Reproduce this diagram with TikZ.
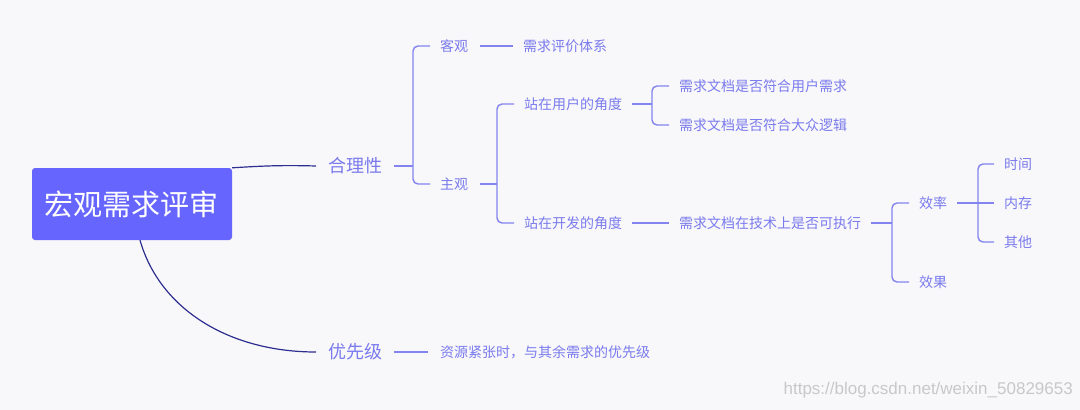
\documentclass[tikz,border=0pt]{standalone}
\usepackage{fontspec}
\setmainfont{Noto Sans CJK SC}
\newfontfamily\wmfont{Liberation Sans}
\definecolor{bg}{HTML}{F8F8FA}
\definecolor{rootfill}{HTML}{6666FF}
\definecolor{tc}{HTML}{7A7AEE}
\definecolor{lc}{HTML}{8484F0}
\definecolor{rc}{HTML}{2E2E90}
\definecolor{wmc}{HTML}{C8C8C8}
\tikzset{
  lvlone/.style={inner sep=0, anchor=west, text=tc, font=\fontsize{18}{20}\selectfont},
  lvltwo/.style={inner sep=0, anchor=west, text=tc, font=\fontsize{14}{16}\selectfont},
  ln/.style={draw=lc, line width=1.4pt},
  br/.style={ln, rounded corners=5pt},
  rootln/.style={draw=rc, line width=1.2pt},
}
\begin{document}
\begin{tikzpicture}[x=1pt,y=-1pt]
\fill[bg] (0,0) rectangle (1080,410);
\useasboundingbox (0,0) rectangle (1080,410);

% root
\node[fill=rootfill, rounded corners=3pt, minimum width=200pt, minimum height=72pt, inner sep=0,
      text=white, font=\fontsize{29}{32}\selectfont] (root) at (132,204) {宏观需求评审};

% level one
\node[lvlone] (hl) at (328,166) {合理性};
\node[lvlone] (yx) at (328,352) {优先级};

% level two
\node[lvltwo] (kg) at (440,46) {客观};
\node[lvltwo] (zg) at (440,184) {主观};
\node[lvltwo] (pj) at (523,46) {需求评价体系};
\node[lvltwo] (yh) at (524,104) {站在用户的角度};
\node[lvltwo] (kf) at (524,223) {站在开发的角度};
\node[lvltwo] (u1) at (679,86) {需求文档是否符合用户需求};
\node[lvltwo] (u2) at (679,125) {需求文档是否符合大众逻辑};
\node[lvltwo] (js) at (679,223) {需求文档在技术上是否可执行};
\node[lvltwo] (xl) at (919,203) {效率};
\node[lvltwo] (xg) at (919,282) {效果};
\node[lvltwo] (sj) at (1004,164) {时间};
\node[lvltwo] (nc) at (1004,203) {内存};
\node[lvltwo] (qt) at (1004,242) {其他};
\node[lvltwo] (zy) at (440,352) {资源紧张时，与其余需求的优先级};

% watermark
\node[inner sep=0, anchor=east, text=wmc, font=\wmfont\fontsize{17}{19}\selectfont] (wm) at (1073,390) {https://blog.csdn.net/weixin\_50829653};

% root connectors
\draw[rootln] (root.north east) .. controls (262,166) and (280,165) .. ([xshift=-12pt]hl.west);
\draw[rootln] ([xshift=8pt]root.south) .. controls (160,310) and (230,352) .. ([xshift=-12pt]yx.west);

% 合理性
\draw[ln] ([xshift=12pt]hl.east) -- ([xshift=-27pt]kg.west |- hl.east);
\draw[br] ([xshift=-10pt]kg.west) -| ([xshift=-27pt]zg.west) -- ([xshift=-10pt]zg.west);

% 客观
\draw[ln] ([xshift=12pt]kg.east) -- ([xshift=-10pt]pj.west);

% 主观
\draw[ln] ([xshift=12pt]zg.east) -- ([xshift=-27pt]yh.west |- zg.east);
\draw[br] ([xshift=-10pt]yh.west) -| ([xshift=-27pt]kf.west) -- ([xshift=-10pt]kf.west);

% 站在用户的角度
\draw[ln] ([xshift=10pt]yh.east) -- ([xshift=-27pt]u1.west |- yh.east);
\draw[br] ([xshift=-10pt]u1.west) -| ([xshift=-27pt]u2.west) -- ([xshift=-10pt]u2.west);

% 站在开发的角度
\draw[ln] ([xshift=10pt]kf.east) -- ([xshift=-10pt]js.west);

% 需求文档在技术上是否可执行
\draw[ln] ([xshift=10pt]js.east) -- ([xshift=-27pt]xl.west |- js.east);
\draw[br] ([xshift=-10pt]xl.west) -| ([xshift=-27pt]xg.west) -- ([xshift=-10pt]xg.west);

% 效率
\draw[ln] ([xshift=10pt]xl.east) -- ([xshift=-10pt]nc.west);
\draw[br] ([xshift=-10pt]sj.west) -| ([xshift=-26pt]qt.west) -- ([xshift=-10pt]qt.west);

% 优先级
\draw[ln] ([xshift=12pt]yx.east) -- ([xshift=-12pt]zy.west);
\end{tikzpicture}
\end{document}
